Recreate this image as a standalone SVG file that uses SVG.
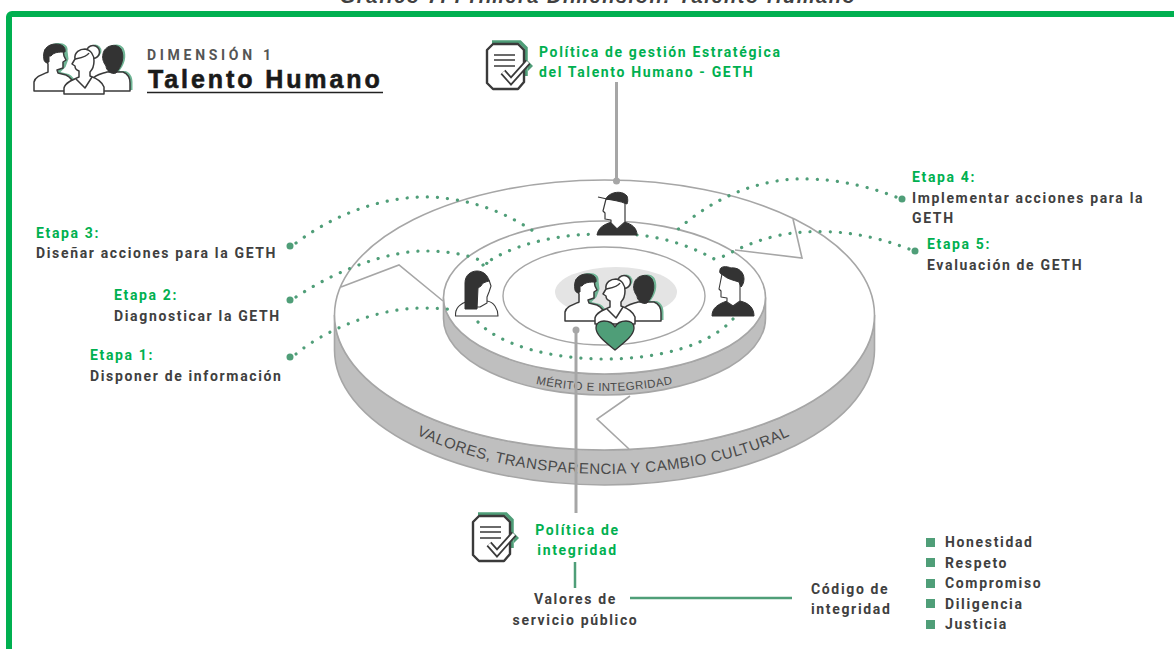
<svg xmlns="http://www.w3.org/2000/svg" width="1174" height="649" viewBox="0 0 1174 649">
<style>
text{font-family:"Roboto","Liberation Sans",sans-serif;font-weight:700;font-size:14px;fill:#404040;letter-spacing:1.65px}
.g{fill:#00b050}
.dot{fill:none;stroke:#4f9e78;stroke-width:3.2;stroke-linecap:round;stroke-dasharray:.1 10}
.end{fill:#4f9e78}
.disc{fill:#fff;stroke:#a6a6a6;stroke-width:1.6}
.side{fill:#bfbfbf;stroke:#a6a6a6;stroke-width:1.6}
.notch{fill:none;stroke:#a6a6a6;stroke-width:1.6}
.arc{font-family:"Liberation Sans",sans-serif;font-weight:400;fill:#4a4a4a}
.ln{fill:#fff;stroke:#3a3a3a;stroke-width:1.5;stroke-linejoin:round}
.dk{fill:#333;stroke:#333;stroke-width:1;stroke-linejoin:round}
.sh{fill:#6fb595}
.pole{stroke:#a6a6a6;stroke-width:3;fill:none}
.link{stroke:#4f9e78;stroke-width:2.5;fill:none}
.sq{fill:#4f9e78}
</style>
<defs>
<g id="crew">
<path class="sh" transform="translate(2.5,-1)" d="M92,91V80C94,75 101,74 107,72L123,72C128,74 130,78 130,83V91ZM103,54C104,46 116,42 121,49C125,57 122,66 116,73H107C103,62 102,58 103,54Z"/>
<path class="ln" d="M92,91V80C94,75 101,74 107,72L123,72C128,74 130,78 130,83V91Z"/>
<path class="dk" d="M103,54C104,46 116,42 121,49C125,57 122,66 116,73C111,75 106,70 106,66C103,62 102,58 103,54Z"/>
<path class="sh" transform="translate(2.5,-1)" d="M44,60C42,50 47,44 56,44C62,44 66,47 65,52L66,60L63,68L58,73L66,75C70,77 73,81 73,85V91H50V60Z"/>
<path class="ln" d="M34,91V82C35,77 41,75 48,72V64C45,60 44,56 45,50H63L64,56L66,60L63,62L63,68L57,70L58,73L66,75C70,77 73,81 73,85V91Z"/>
<path class="dk" d="M44,60C42,50 47,44 56,44C62,44 66,47 65,52C59,52 54,52 51,56L49,56L49,62C47,63 45,63 44,60Z"/>
<circle class="sh" cx="95" cy="51" r="6.5"/>
<circle class="ln" cx="93" cy="52" r="6.5"/>
<path class="ln" d="M64,94V88C65,83 72,80 79,77V71C76,70 75,68 75,66L72,64L75,59C74,52 80,49 85,49C91,50 94,55 94,61C94,66 92,70 90,72V76C96,78 102,82 104,87V94Z"/>
<path class="ln" d="M75,59C80,58 87,57 89,53" fill="none"/>
<path class="ln" d="M76,79L85,88L92,77" fill="none"/>
</g>
<g id="doc">
<path fill="none" stroke="#4f9e78" stroke-width="3.5" d="M492,42H520L526,48V76"/>
<path d="M528,61L533,66L528,71Z" fill="#4f9e78"/>
<path fill="#fff" stroke="#3a3a3a" stroke-width="2.4" stroke-linejoin="round" d="M493,44H518L524,50V82L518,89H493L487,83V50Z"/>
<path stroke="#3a3a3a" stroke-width="1.7" d="M494,55H515M494,60H515M494,66H515"/>
<path fill="none" stroke="#3a3a3a" stroke-width="6.5" stroke-linejoin="miter" d="M503,72L511,81L528,62"/>
<path fill="none" stroke="#fff" stroke-width="3" stroke-linejoin="miter" d="M503,72L511,81L528,62"/>
</g>
<path id="arcOuter" d="M334.5,334A270,140 0 0 0 874.5,334"/>
<path id="arcInner" d="M443.5,314A161,77 0 0 0 765.5,314"/>
</defs>
<rect width="1174" height="649" fill="#fff"/>
<text x="598" y="3" text-anchor="middle" style="font-family:'Liberation Sans',sans-serif;font-style:italic;font-size:20px;letter-spacing:1.55px">Gráfico 7. Primera Dimensión: Talento Humano</text>
<rect x="9" y="14" width="1300" height="800" rx="3" fill="none" stroke="#00b050" stroke-width="6"/>

<g id="header">
<use href="#crew"/>
<text x="147" y="60" style="letter-spacing:3.7px;fill:#555">DIMENSIÓN 1</text>
<text x="148" y="88" style="font-family:'Liberation Sans',sans-serif;font-size:25px;letter-spacing:2.9px;fill:#1a1a1a;stroke:#1a1a1a;stroke-width:.6">Talento Humano</text>
<path d="M147,92.5H383" stroke="#222" stroke-width="1.5"/>
</g>

<g id="disc-outer">
<path class="side" d="M334.5,315A270,135 0 0 0 874.5,315V350A270,135 0 0 1 334.5,350Z"/>
<ellipse class="disc" cx="604.5" cy="315" rx="270" ry="135"/>
<text class="arc" style="font-size:15px;letter-spacing:.55px;font-weight:400"><textPath href="#arcOuter" startOffset="49.8%" text-anchor="middle">VALORES, TRANSPARENCIA Y CAMBIO CULTURAL</textPath></text>
<path class="notch" d="M341,287L399,265L443,301M793,219L802,258L735,250M630,396L597,419L629,449"/>
</g>
<g id="disc-inner">
<path class="side" d="M443.5,297.5A161,76.5 0 0 0 765.5,297.5V318.5A161,76.5 0 0 1 443.5,318.5Z"/>
<ellipse class="disc" cx="604.5" cy="297.5" rx="161" ry="76.5"/>
<text class="arc" style="font-size:11.5px;letter-spacing:.45px;font-weight:400"><textPath href="#arcInner" startOffset="50%" text-anchor="middle">MÉRITO E INTEGRIDAD</textPath></text>
<ellipse cx="604" cy="296" rx="101" ry="49" fill="#fff" stroke="#a6a6a6" stroke-width="1.4"/>
<ellipse cx="616" cy="292" rx="61" ry="25" fill="#e4e4e4"/>
</g>

<g id="connectors">
<path class="pole" d="M616.5,82V181"/>
<circle cx="616.5" cy="181" r="3.5" fill="#a6a6a6"/>
<path class="pole" d="M576,330V513"/>
<circle cx="576" cy="330" r="3.5" fill="#a6a6a6"/>
<path class="link" d="M575,562V588M630,598H792"/>
<path class="dot" d="M296,243C340,210 390,196 430,197C475,199 510,215 536,233"/>
<path class="dot" d="M296,297C340,268 390,251 425,251C455,251 475,257 488,264"/>
<path class="dot" d="M296,354C325,330 375,309 420,308C435,308 450,309 461,311"/>
<path class="dot" d="M896,197C860,183 825,178 795,179C745,182 705,205 676,231"/>
<path class="dot" d="M909,249C870,234 835,230 805,232C770,234 745,245 718,259"/>
<path class="dot" d="M483,265C510,246 550,235 597,234"/>
<path class="dot" d="M637,235C665,237 695,248 716,260"/>
<path class="dot" d="M478,322C500,345 550,359 605,359C660,359 710,345 733,319"/>
<circle class="end" cx="290" cy="246" r="3.5"/>
<circle class="end" cx="290" cy="300" r="3.5"/>
<circle class="end" cx="290" cy="357" r="3.5"/>
<circle class="end" cx="902" cy="199" r="3.5"/>
<circle class="end" cx="915" cy="251" r="3.5"/>
</g>

<g id="person-top">
<path class="dk" d="M597,235C598,228 604,224 612,222L618,229L624,222C632,224 637,228 637,235Z"/>
<path class="ln" style="stroke-width:1.2" d="M606,199L604,207L603,211L605,213L605,219L611,220V223L617,229L625,222V200Z"/>
<path class="dk" d="M606,199C608,193 621,189 627,196C628,199 628,202 627,204C620,201 612,200 606,199Z"/>
<path d="M598,197L607,199" stroke="#333" stroke-width="1.2"/>
</g>
<g id="person-left">
<path class="ln" style="stroke-width:1.1" d="M455.5,316C455,308 461,303 469,301H487C494,302 498,309 498,316Z"/>
<path class="ln" style="stroke-width:1.1" d="M476,280H489L491,286L489,292L487,297V303L480,307H476Z"/>
<path class="dk" d="M465,309V283C465,275 471,271 477,271C483,271 488,275 489,281C485,282 482,283 481,286L478,288L477,309Z"/>
</g>
<g id="person-right">
<path class="dk" d="M712,316C712,308 718,304 727,301L733,306L740,301C749,303 754,308 754,316Z"/>
<path class="ln" style="stroke-width:1.1" d="M722,274L720,284L719,289L721,291V297L727,298V302L733,306L740,301V278Z"/>
<path class="dk" d="M720,270C720,266 727,266 731,268C738,267 744,272 744,279C744,283 742,286 741,287L739,282C733,280 727,279 723,275C720,274 719,272 720,270Z"/>
</g>
<g id="person-center">
<use href="#crew" transform="translate(531,230)"/>
<path d="M615,350C608,344 596,336 596,328C596,323 600,321 604,321C609,321 613,323 615,327C617,323 621,321 626,321C630,321 634,323 634,328C634,336 622,344 615,350Z" fill="#4f9e78" stroke="#333" stroke-width="1.3" stroke-linejoin="round"/>
</g>

<g id="policy-top">
<use href="#doc"/>
<text class="g" x="539" y="57">Política de gestión Estratégica</text>
<text class="g" x="539" y="77">del Talento Humano - GETH</text>
</g>
<g id="policy-bottom">
<use href="#doc" transform="translate(-14,472)"/>
<text class="g" x="577.5" y="535" text-anchor="middle">Política de</text>
<text class="g" x="577.5" y="555" text-anchor="middle">integridad</text>
</g>
<g id="values">
<text x="575.5" y="604" text-anchor="middle">Valores de</text>
<text x="575.5" y="625" text-anchor="middle">servicio público</text>
</g>
<g id="code">
<text x="811" y="594">Código de</text>
<text x="811" y="614">integridad</text>
</g>
<g id="code-list">
<rect class="sq" x="926" y="538" width="9" height="9"/><text x="945" y="547">Honestidad</text>
<rect class="sq" x="926" y="558" width="9" height="9"/><text x="945" y="568">Respeto</text>
<rect class="sq" x="926" y="579" width="9" height="9"/><text x="945" y="588">Compromiso</text>
<rect class="sq" x="926" y="599" width="9" height="9"/><text x="945" y="609">Diligencia</text>
<rect class="sq" x="926" y="620" width="9" height="9"/><text x="945" y="629">Justicia</text>
</g>
<g id="stage-3"><text class="g" x="36" y="238">Etapa 3:</text><text x="36" y="258">Diseñar acciones para la GETH</text></g>
<g id="stage-2"><text class="g" x="114" y="300">Etapa 2:</text><text x="114" y="321">Diagnosticar la GETH</text></g>
<g id="stage-1"><text class="g" x="90" y="360">Etapa 1:</text><text x="90" y="381">Disponer de información</text></g>
<g id="stage-4"><text class="g" x="912" y="182">Etapa 4:</text><text x="912" y="203">Implementar acciones para la</text><text x="912" y="223">GETH</text></g>
<g id="stage-5"><text class="g" x="927" y="249">Etapa 5:</text><text x="927" y="270">Evaluación de GETH</text></g>
</svg>
